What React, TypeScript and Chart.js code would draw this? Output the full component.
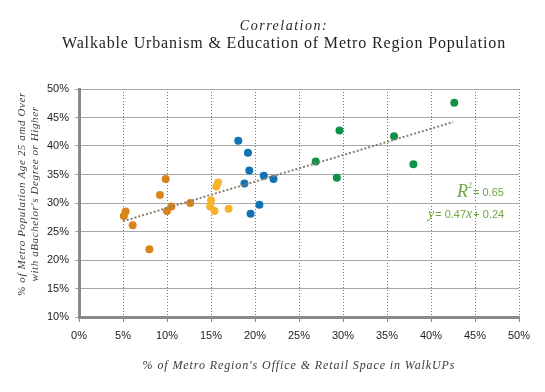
import React, { useEffect, useRef } from "react";
import { Chart, registerables } from "chart.js";

Chart.register(...registerables);

const titleLine1 = "Correlation:";
const titleLine2 = "Walkable Urbanism & Education of Metro Region Population";
const yTitle1 = "% of Metro Population Age 25 amd Over";
const yTitle2 = "with aBachelor's Degree or Higher";
const xTitle = "% of Metro Region's Office & Retail Space in WalkUPs";

const orangeX = [0.051, 0.053, 0.061, 0.080, 0.092, 0.0985, 0.100, 0.105, 0.1265];
const orangeY = [0.277, 0.285, 0.261, 0.219, 0.314, 0.342, 0.286, 0.294, 0.300];
const yellowX = [0.150, 0.149, 0.154, 0.156, 0.158, 0.170];
const yellowY = [0.305, 0.294, 0.286, 0.329, 0.336, 0.290];
const blueX = [0.181, 0.192, 0.1935, 0.188, 0.210, 0.221, 0.205, 0.195];
const blueY = [0.409, 0.388, 0.357, 0.334, 0.348, 0.342, 0.297, 0.281];
const greenX = [0.269, 0.296, 0.293, 0.358, 0.380, 0.4265];
const greenY = [0.373, 0.427, 0.3445, 0.417, 0.368, 0.476];
const trendX = [0.05, 0.425];
const trendY = [0.268, 0.442];

const r2Text = "0.65";
const eqSlope = "0.47";
const eqIntercept = "0.24";

const toPts = (xs: number[], ys: number[]) => xs.map((x, i) => ({ x, y: ys[i] }));
const pct = (v: number) => Math.round(v * 100) + "%";

const SERIF = '"Liberation Serif", "DejaVu Serif", serif';
const SANS = '"Liberation Sans", Arial, sans-serif';

const textPlugin = {
  id: "customText",
  afterDraw(chart: any) {
    const ctx = chart.ctx as CanvasRenderingContext2D;
    const area = chart.chartArea;
    ctx.save();
    ctx.fillStyle = "#1f1f1f";
    ctx.textAlign = "center";
    ctx.textBaseline = "alphabetic";
    // titles
    (ctx as any).letterSpacing = "1.5px";
    ctx.font = `italic 14px ${SERIF}`;
    ctx.fillText(titleLine1, 284, 30);
    (ctx as any).letterSpacing = "0.85px";
    ctx.font = `16px ${SERIF}`;
    ctx.fillText(titleLine2, 284, 48);
    // x title
    ctx.fillStyle = "#3a3a3a";
    (ctx as any).letterSpacing = "0.9px";
    ctx.font = `italic 12px ${SERIF}`;
    ctx.fillText(xTitle, (area.left + area.right) / 2, 369);
    // y title
    ctx.save();
    ctx.translate(25, 194);
    ctx.rotate(-Math.PI / 2);
    ctx.font = `italic 11px ${SERIF}`;
    (ctx as any).letterSpacing = "0.6px";
    ctx.fillText(yTitle1, 0, 0);
    ctx.fillText(yTitle2, 0, 13);
    ctx.restore();

    // annotation
    const green = "#6fa540";
    ctx.fillStyle = green;
    ctx.textAlign = "left";
    (ctx as any).letterSpacing = "0px";
    let x = 457;
    ctx.font = `italic 18px ${SERIF}`;
    ctx.fillText("R", x, 197);
    x += ctx.measureText("R").width;
    ctx.font = `8px ${SERIF}`;
    ctx.fillText("2", x, 188);
    x += ctx.measureText("2").width + 1;
    ctx.font = `11px ${SANS}`;
    ctx.fillText("= " + r2Text, x, 196);

    x = 428;
    ctx.font = `italic 14px ${SERIF}`;
    ctx.fillText("y", x, 218);
    x += ctx.measureText("y").width + 1;
    ctx.font = `11px ${SANS}`;
    const s1 = "= " + eqSlope;
    ctx.fillText(s1, x, 218);
    x += ctx.measureText(s1).width;
    ctx.font = `italic 14px ${SERIF}`;
    ctx.fillText("x", x, 218);
    x += ctx.measureText("x").width + 1;
    ctx.font = `11px ${SANS}`;
    ctx.fillText("+ " + eqIntercept, x, 218);
    ctx.restore();
  },
};

export default function App() {
  const ref = useRef<HTMLCanvasElement>(null);
  useEffect(() => {
    if (!ref.current) return;
    const pointDs = (label: string, xs: number[], ys: number[], color: string) => ({
      type: "scatter" as const,
      label,
      data: toPts(xs, ys),
      backgroundColor: color,
      borderColor: color,
      pointRadius: 4,
      pointBorderWidth: 0,
    });
    const chart = new Chart(ref.current, {
      type: "scatter",
      data: {
        datasets: [
          {
            type: "line" as const,
            label: "Trend",
            data: toPts(trendX, trendY),
            borderColor: "#8a7c6e",
            borderWidth: 2,
            borderDash: [2, 2],
            pointRadius: 0,
            fill: false,
          } as any,
          pointDs("A", orangeX, orangeY, "#d8831c"),
          pointDs("B", yellowX, yellowY, "#f6b42c"),
          pointDs("C", blueX, blueY, "#1173b6"),
          pointDs("D", greenX, greenY, "#0f9248"),
        ],
      },
      options: {
        responsive: false,
        animation: false,
        layout: { padding: { top: 89, right: 26, left: 0, bottom: 0 } },
        plugins: { legend: { display: false }, tooltip: { enabled: false }, title: { display: false } },
        scales: {
          x: {
            type: "linear",
            min: 0,
            max: 0.5,
            afterFit: (s: any) => { s.height = 75; },
            ticks: {
              stepSize: 0.05,
              callback: (v: any) => pct(Number(v)),
              color: "#222",
              font: { family: SANS, size: 11 },
              padding: 7,
              maxRotation: 0,
            },
            grid: {
              color: (c: any) => (c.index === 0 ? "rgba(0,0,0,0)" : "#7a7a7a"),
              lineWidth: 1,
              tickLength: 5,
              tickColor: "#888",
              tickBorderDash: [],
            } as any,
            border: { display: true, color: "#8a8a8a", width: 3, dash: [1, 2] } as any,
          },
          y: {
            type: "linear",
            min: 0.1,
            max: 0.5,
            afterFit: (s: any) => { s.width = 79; },
            ticks: {
              stepSize: 0.05,
              callback: (v: any) => pct(Number(v)),
              color: "#222",
              font: { family: SANS, size: 11 },
              padding: 6,
            },
            grid: {
              color: "#a8a8a8",
              lineWidth: 1,
              tickLength: 4,
              tickColor: "#a8a8a8",
              tickBorderDash: [],
            } as any,
            border: { display: true, color: "#8a8a8a", width: 3 },
          },
        },
      },
      plugins: [textPlugin],
    } as any);
    return () => chart.destroy();
  }, []);
  return (
    <div style={{ position: "fixed", left: 0, top: 0, width: 545, height: 392, background: "#fff" }}>
      <canvas ref={ref} width={545} height={392} style={{ width: 545, height: 392, display: "block" }} />
    </div>
  );
}
